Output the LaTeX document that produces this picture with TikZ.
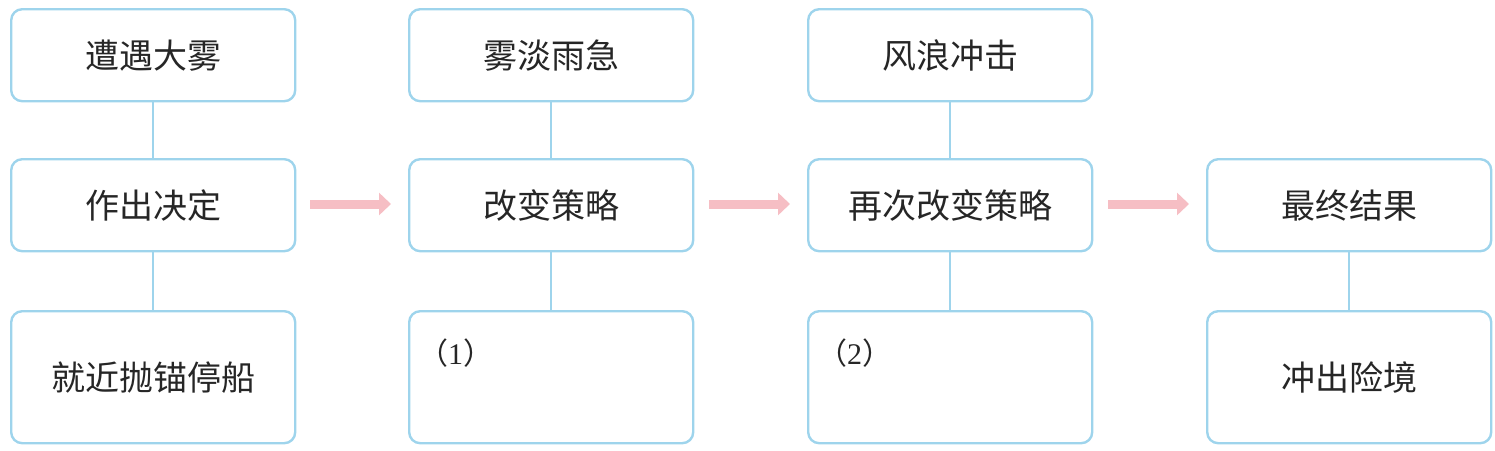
\documentclass[tikz,border=0pt]{standalone}
\usepackage{fontspec}
\newfontfamily\cjk{Noto Sans CJK SC}
\newfontfamily\numserif{Liberation Serif}
\setmainfont{Noto Sans CJK SC}
\usetikzlibrary{arrows.meta}
\definecolor{boxblue}{RGB}{158,212,236}
\definecolor{arrpink}{RGB}{246,190,196}
\begin{document}
\begin{tikzpicture}[x=1pt,y=-1pt,
  box/.style={draw=boxblue,line width=2.4pt,rounded corners=11pt,minimum width=284pt,anchor=north west,inner sep=0pt,font=\cjk\fontsize{34}{38}\selectfont,text=black!85},
  smallbox/.style={box,minimum height=92pt},
  bigbox/.style={box,minimum height=132pt},
  numlabel/.style={anchor=west,inner sep=0pt,font=\cjk\fontsize{30}{34}\selectfont,text=black!85},
  link/.style={draw=boxblue,line width=2.4pt},
  bigarrow/.style={draw=arrpink,line width=9pt,-{Triangle[length=12pt,width=22pt]}}]
\useasboundingbox (0,0) rectangle (1495,450);
% column 1
\node[smallbox] (a1) at (10,8) {遭遇大雾};
\node[smallbox] (a2) at (10,158) {作出决定};
\node[bigbox] (a3) at (10,310) {就近抛锚停船};
% column 2
\node[smallbox] (b1) at (408,8) {雾淡雨急};
\node[smallbox] (b2) at (408,158) {改变策略};
\node[bigbox] (b3) at (408,310) {};
% column 3
\node[smallbox] (c1) at (807,8) {风浪冲击};
\node[smallbox] (c2) at (807,158) {再次改变策略};
\node[bigbox] (c3) at (807,310) {};
% column 4
\node[smallbox] (d2) at (1206,158) {最终结果};
\node[bigbox] (d3) at (1206,310) {冲出险境};
% labels
\node[numlabel] (l1) at (418,353) {（{\numserif 1}）};
\node[numlabel] (l2) at (817,353) {（{\numserif 2}）};
% links
\foreach \c in {a,b,c}{
  \draw[link] (\c1.south) -- (\c2.north);
  \draw[link] (\c2.south) -- (\c3.north);
}
\draw[link] (d2.south) -- (d3.north);
% arrows
\coordinate (p1s) at (310,204); \coordinate (p1e) at (391,204);
\coordinate (p2s) at (709,204); \coordinate (p2e) at (790,204);
\coordinate (p3s) at (1108,204); \coordinate (p3e) at (1189,204);
\draw[bigarrow] (p1s) -- (p1e);
\draw[bigarrow] (p2s) -- (p2e);
\draw[bigarrow] (p3s) -- (p3e);
\end{tikzpicture}
\end{document}
